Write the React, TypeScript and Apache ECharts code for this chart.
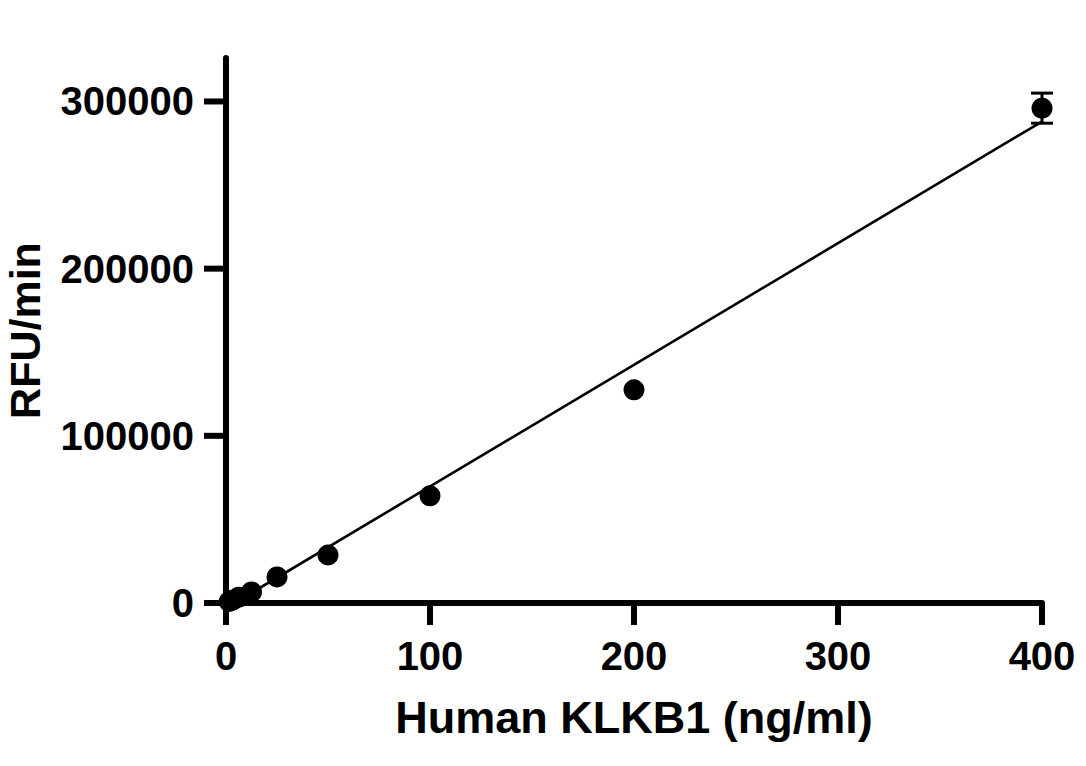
import { useEffect, useRef } from 'react'
import * as echarts from 'echarts'

// Human KLKB1 standard curve
const concentrations = [1.5625, 3.125, 6.25, 12.5, 25, 50, 100, 200, 400]
const rfuPerMin = [900, 1700, 3500, 6600, 15600, 28700, 64100, 127500, 296000]
const rfuError = [0, 0, 0, 0, 0, 0, 0, 0, 9000]
const fitLine = [
  [1.5625, -1900],
  [400, 288000],
]
const xTicks = [0, 100, 200, 300, 400]
const yTicks = [0, 100000, 200000, 300000]

const FONT = '"Liberation Sans", Arial, Helvetica, sans-serif'
const AXIS_WIDTH = 6
const TICK_LEN = 22

export default function App() {
  const chartRef = useRef<HTMLDivElement | null>(null)

  useEffect(() => {
    document.body.style.margin = '0'
    if (!chartRef.current) {
      return
    }

    const tickStyle = { stroke: '#000', lineWidth: AXIS_WIDTH }

    const chart = echarts.init(chartRef.current, undefined, { renderer: 'svg' })
    chart.setOption({
      animation: false,
      backgroundColor: '#fff',
      grid: { left: 226, top: 58, right: 44, bottom: 163, outerBoundsMode: 'none' },
      xAxis: {
        type: 'value',
        min: 0,
        max: 400,
        interval: 100,
        name: 'Human KLKB1 (ng/ml)',
        nameLocation: 'middle',
        nameGap: 92,
        nameTextStyle: { color: '#000', fontFamily: FONT, fontWeight: 'bold', fontSize: 45 },
        axisLine: { show: true, onZero: false, lineStyle: { color: '#000', width: AXIS_WIDTH } },
        axisTick: { show: false },
        axisLabel: { color: '#000', fontFamily: FONT, fontWeight: 'bold', fontSize: 40, margin: 33 },
        splitLine: { show: false },
      },
      yAxis: {
        type: 'value',
        min: 0,
        max: 326000,
        name: 'RFU/min',
        nameLocation: 'middle',
        nameRotate: 90,
        nameGap: 180,
        nameTextStyle: { color: '#000', fontFamily: FONT, fontWeight: 'bold', fontSize: 43 },
        axisLine: { show: true, onZero: false, lineStyle: { color: '#000', width: AXIS_WIDTH } },
        axisTick: { show: false },
        axisLabel: {
          customValues: yTicks,
          color: '#000',
          fontFamily: FONT,
          fontWeight: 'bold',
          fontSize: 40,
          margin: 32,
          formatter: (v: number) => String(v),
        },
        splitLine: { show: false },
      },
      series: [
        {
          // x axis ticks, placed through the axis scale
          type: 'custom',
          data: xTicks.map((v) => [v]),
          clip: false,
          silent: true,
          z: 4,
          renderItem: (_params: any, api: any) => {
            const p = api.coord([api.value(0), 0])
            return {
              type: 'line',
              shape: { x1: p[0], y1: p[1], x2: p[0], y2: p[1] + TICK_LEN },
              style: tickStyle,
            }
          },
        },
        {
          // y axis ticks
          type: 'custom',
          data: yTicks.map((v) => [0, v]),
          clip: false,
          silent: true,
          z: 4,
          renderItem: (_params: any, api: any) => {
            const p = api.coord([0, api.value(1)])
            return {
              type: 'line',
              shape: { x1: p[0] - TICK_LEN, y1: p[1], x2: p[0], y2: p[1] },
              style: tickStyle,
            }
          },
        },
        {
          type: 'line',
          data: fitLine,
          symbol: 'none',
          lineStyle: { color: '#000', width: 2.6 },
          z: 1,
        },
        {
          type: 'custom',
          data: concentrations.map((x, i) => [x, rfuPerMin[i], rfuError[i]]),
          z: 2,
          renderItem: (_params: any, api: any) => {
            const err = api.value(2)
            if (!err) {
              return null
            }
            const x = api.value(0)
            const y = api.value(1)
            const top = api.coord([x, y + err])
            const bottom = api.coord([x, y - err])
            const half = 11
            const style = { stroke: '#000', lineWidth: 3 }
            return {
              type: 'group',
              children: [
                { type: 'line', shape: { x1: top[0], y1: top[1], x2: bottom[0], y2: bottom[1] }, style },
                { type: 'line', shape: { x1: top[0] - half, y1: top[1], x2: top[0] + half, y2: top[1] }, style },
                { type: 'line', shape: { x1: bottom[0] - half, y1: bottom[1], x2: bottom[0] + half, y2: bottom[1] }, style },
              ],
            }
          },
        },
        {
          type: 'scatter',
          data: concentrations.map((x, i) => [x, rfuPerMin[i]]),
          symbol: 'circle',
          symbolSize: 21,
          itemStyle: { color: '#000', opacity: 1 },
          z: 3,
        },
      ],
    })

    return () => {
      chart.dispose()
    }
  }, [])

  return <div ref={chartRef} style={{ width: 1086, height: 766 }} />
}
